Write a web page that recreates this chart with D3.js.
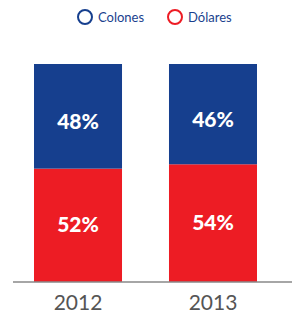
<!DOCTYPE html>
<html><head><meta charset="utf-8">
<script src="https://cdn.jsdelivr.net/npm/d3@7"></script>
<style>body{margin:0;background:#fff}svg{display:block}</style>
</head><body>
<script>
const years = ["2012", "2013"];
const colones = [48, 46];
const dolares = [52, 54];
const seriesNames = ["Colones", "Dólares"];
const colors = ["#163F8E", "#ED1C24"];

const W = 292, H = 315;
const svg = d3.select("body").append("svg").attr("width", W).attr("height", H);
const x = d3.scaleBand().domain(years).range([34, 257]).paddingInner(0.348).paddingOuter(0);
const y = d3.scaleLinear().domain([0, 100]).range([282, 64]);

const data = years.map((yr, i) => ({year: yr, Dólares: dolares[i], Colones: colones[i]}));
const stack = d3.stack().keys(["Dólares", "Colones"])(data);
const colorOf = {"Colones": colors[0], "Dólares": colors[1]};
const labelDy = {"Colones": 13, "Dólares": 7};

stack.forEach(layer => {
  svg.append("g").selectAll("rect").data(layer).join("rect")
    .attr("x", d => x(d.data.year))
    .attr("width", x.bandwidth())
    .attr("y", d => y(d[1]))
    .attr("height", d => y(d[0]) - y(d[1]))
    .attr("fill", colorOf[layer.key]);
  svg.append("g").selectAll("text").data(layer).join("text")
    .attr("x", d => x(d.data.year) + x.bandwidth() / 2)
    .attr("y", d => (y(d[0]) + y(d[1])) / 2 + labelDy[layer.key])
    .attr("text-anchor", "middle")
    .attr("fill", "#fff")
    .attr("font-family", "Lato, sans-serif")
    .attr("font-weight", "900")
    .attr("font-size", 21)
    .text(d => (d[1] - d[0]) + "%");
});

const axis = d3.axisBottom(x).tickSize(0).tickPadding(10);
const ag = svg.append("g").attr("transform", "translate(0,282)").call(axis);
ag.select(".domain").attr("d", "M13,0H292").attr("stroke", "#888").attr("stroke-width", 1.5);
ag.selectAll("text").attr("font-family", "Lato, sans-serif").attr("font-size", 21)
  .attr("fill", "#555").attr("dy", "0.85em");

const legX = [85, 175];
const lg = svg.append("g").selectAll("g").data(seriesNames).join("g")
  .attr("transform", (d, i) => `translate(${legX[i]},17)`);
lg.append("circle").attr("r", 7).attr("fill", "none")
  .attr("stroke", (d, i) => colors[i]).attr("stroke-width", 2);
lg.append("text").attr("x", 13).attr("y", 4.5).attr("font-family", "Lato, sans-serif")
  .attr("font-size", 13).attr("fill", "#1a3f8e").text(d => d);
</script>
</body></html>
